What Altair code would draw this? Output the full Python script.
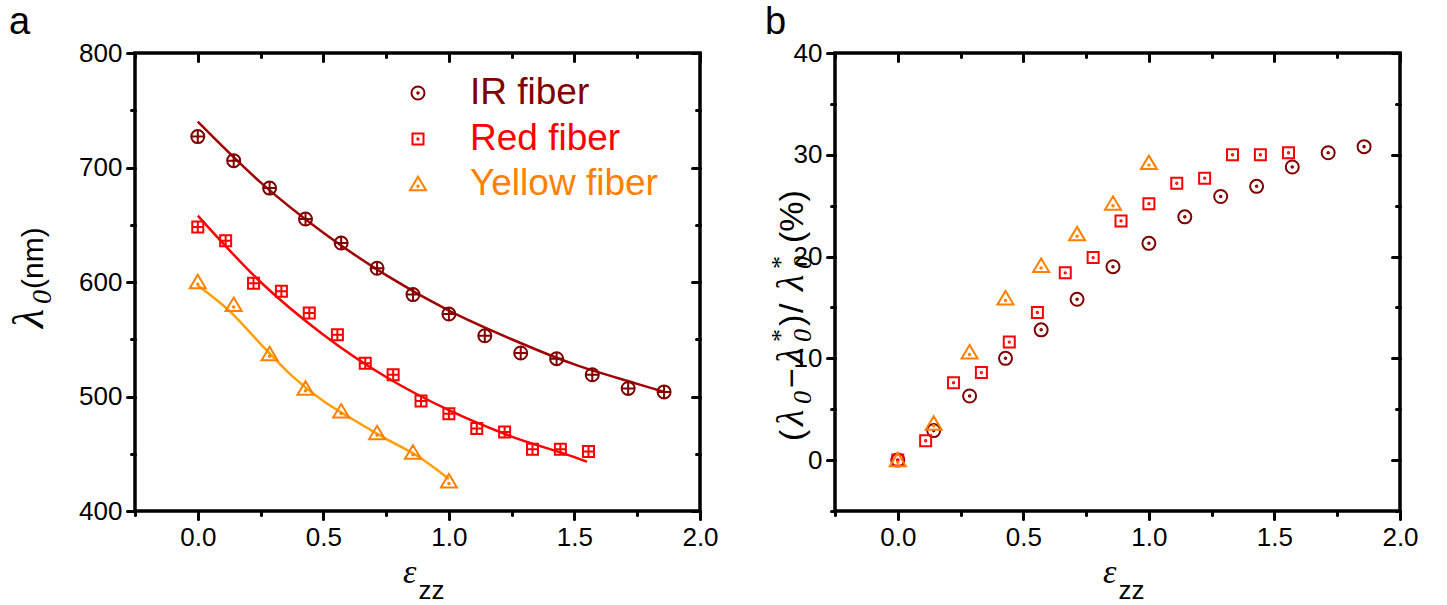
import altair as alt
import pandas as pd

# ---------------------------------------------------------------- data
# axial strain (epsilon_zz) of each measurement
ir_strain = [0.0, 0.143, 0.286, 0.429, 0.571, 0.714, 0.857, 1.0, 1.143, 1.286, 1.429, 1.571, 1.714, 1.857]
red_strain = [0.0, 0.111, 0.222, 0.333, 0.444, 0.556, 0.667, 0.778, 0.889, 1.0, 1.111, 1.222, 1.333, 1.444, 1.556]
yellow_strain = [0.0, 0.143, 0.286, 0.429, 0.571, 0.714, 0.857, 1.0]

# peak wavelength lambda_0 (nm)
ir_wavelength = [727, 706, 682, 655, 634, 612, 589, 572, 553, 538, 533, 519, 507, 504]
red_wavelength = [648, 636, 599, 592, 573, 554, 529, 519, 496, 485, 472, 469, 454, 454, 452]
yellow_wavelength = [600, 580, 537, 507, 487, 468, 451, 426]

# fitted curves through the wavelength data
ir_fit_strain = [0.0, 0.25, 0.5, 0.75, 1.0, 1.25, 1.5, 1.75, 1.857]
ir_fit_wavelength = [740, 687, 643, 606, 575, 550, 528, 511, 504]
red_fit_strain = [0.0, 0.25, 0.5, 0.75, 1.0, 1.25, 1.5, 1.55]
red_fit_wavelength = [658, 600, 554, 517, 488, 465, 447, 443]
yellow_fit_strain = [0.0, 0.125, 0.25, 0.375, 0.5, 0.625, 0.75, 0.875, 1.0]
yellow_fit_wavelength = [597, 575, 546, 518, 496, 479, 463, 448, 428]

# relative blue shift (lambda_0* - lambda_0) / lambda_0* in percent
ir_shift = [0.0, 2.9, 6.3, 10.0, 12.8, 15.8, 19.0, 21.3, 23.9, 25.9, 26.9, 28.8, 30.2, 30.8]
red_shift = [0.0, 1.9, 7.6, 8.6, 11.6, 14.5, 18.4, 19.9, 23.5, 25.2, 27.2, 27.7, 30.0, 30.0, 30.2]
yellow_shift = [0.0, 3.6, 10.6, 15.9, 19.1, 22.2, 25.2, 29.2]

series_names = ["IR fiber", "Red fiber", "Yellow fiber"]

x_major = [0.0, 0.5, 1.0, 1.5, 2.0]
x_minor = [-0.25, 0.25, 0.75, 1.25, 1.75]
wl_major = [400, 500, 600, 700, 800]
wl_minor = [450, 550, 650, 750]
shift_major = [0, 10, 20, 30, 40]
shift_minor = [-5, 5, 15, 25, 35]

# ---------------------------------------------------------------- style
FONT = "Liberation Sans"
SERIF = "Liberation Serif"
W, H = 565, 458

IR_C, RED_C, YEL_C = "#800000", "#FF0000", "#FF8000"
IR_LINE, RED_LINE, YEL_LINE = "#A00000", "#FF0000", "#FFA000"

CIRCLE = "M-1,0A1,1,0,1,1,1,0A1,1,0,1,1,-1,0Z"
SQUARE = "M-1,-1L1,-1L1,1L-1,1Z"
TRIANGLE = "M0,-1L1.1,0.85L-1.1,0.85Z"
PLUS = "M-1,0L1,0M0,-1L0,1"
DOT = "M-0.12,0A0.12,0.12,0,1,1,0.12,0A0.12,0.12,0,1,1,-0.12,0Z"
TRI_DOT = "M-0.1,0.3A0.1,0.1,0,1,1,0.1,0.3A0.1,0.1,0,1,1,-0.1,0.3Z"

SHAPES_PLUS = {"IR fiber": CIRCLE + PLUS, "Red fiber": SQUARE + PLUS, "Yellow fiber": TRIANGLE + TRI_DOT}
SHAPES_DOT = {"IR fiber": CIRCLE + DOT, "Red fiber": SQUARE + DOT, "Yellow fiber": TRIANGLE + TRI_DOT}
SIZES = {"IR fiber": 169, "Red fiber": 121, "Yellow fiber": 213}
COLORS = {"IR fiber": IR_C, "Red fiber": RED_C, "Yellow fiber": YEL_C}

x_scale = alt.Scale(domain=[-0.25, 2.0], nice=False, zero=False)
wl_scale = alt.Scale(domain=[400, 800], nice=False, zero=False)
shift_scale = alt.Scale(domain=[-5, 40], nice=False, zero=False)


def axis(orient, values, labels, size, offset=0, fmt=".1f"):
    kw = dict(orient=orient, values=values, labels=labels, tickSize=size, offset=offset,
              domain=False, grid=False, title=None, tickColor="black", tickWidth=3,
              tickCap="round")
    if labels:
        kw.update(format=fmt, labelFont=FONT, labelFontSize=26, labelColor="black",
                  labelPadding=5, labelOverlap=False, labelFlush=False)
    return alt.Axis(**kw)


def frame(df, xf, yf, y_scale, y_major, y_minor):
    pairs = [
        (axis("bottom", x_major, True, 8), axis("left", y_major, True, 8, fmt="d")),
        (axis("bottom", x_minor, False, 4), axis("left", y_minor, False, 4)),
        (axis("top", x_major, False, 8, -8), axis("right", y_major, False, 8, -8)),
        (axis("top", x_minor, False, 4, -4), axis("right", y_minor, False, 4, -4)),
    ]
    return [
        alt.Chart(df).mark_point(opacity=0).encode(
            x=alt.X(f"{xf}:Q", scale=x_scale, axis=xa),
            y=alt.Y(f"{yf}:Q", scale=y_scale, axis=ya),
        )
        for xa, ya in pairs
    ]


def points(df, yf, y_scale, name, shapes):
    return alt.Chart(df).mark_point(
        shape=shapes[name], size=SIZES[name], filled=False, strokeWidth=2,
        color=COLORS[name], opacity=1,
    ).encode(
        x=alt.X("strain:Q", scale=x_scale, axis=None),
        y=alt.Y(f"{yf}:Q", scale=y_scale, axis=None),
    )


def fit_line(xs, ys, color):
    df = pd.DataFrame({"strain": xs, "wavelength": ys})
    return alt.Chart(df).mark_line(color=color, strokeWidth=2.5, interpolate="monotone").encode(
        x=alt.X("strain:Q", scale=x_scale, axis=None),
        y=alt.Y("wavelength:Q", scale=wl_scale, axis=None),
    )


def text(t, x, y, size, color="black", font=FONT, style="normal", align="left",
         baseline="alphabetic", angle=0):
    return alt.Chart(pd.DataFrame({"t": [t]})).mark_text(
        font=font, fontSize=size, fontStyle=style, color=color, align=align,
        baseline=baseline, angle=angle,
    ).encode(text="t:N", x=alt.value(x), y=alt.value(y))


def vertical_label(pieces, x_base, y_start):
    """Rotated label built from pieces: (text, font, style, size, advance, x shift).
    Pieces run upward from y_start along a common baseline at x_base."""
    layers, y = [], y_start
    for t, font, style, size, adv, dx in pieces:
        layers.append(text(t, x_base + dx, y, size, font=font, style=style, angle=270))
        y -= adv
    return layers


def symbol(name, x, y):
    return alt.Chart(pd.DataFrame({"t": [name]})).mark_point(
        shape=SHAPES_DOT[name], size=SIZES[name], filled=False, strokeWidth=2,
        color=COLORS[name], opacity=1,
    ).encode(x=alt.value(x), y=alt.value(y))


def x_title():
    cx = W / 2
    return [
        text("ε", cx - 1, 530, 34, font=SERIF, style="italic", align="right"),
        text("zz", cx + 1, 546, 26),
    ]


ir_a = pd.DataFrame({"strain": ir_strain, "wavelength": ir_wavelength})
red_a = pd.DataFrame({"strain": red_strain, "wavelength": red_wavelength})
yel_a = pd.DataFrame({"strain": yellow_strain, "wavelength": yellow_wavelength})

ir_b = pd.DataFrame({"strain": ir_strain, "shift": ir_shift})
red_b = pd.DataFrame({"strain": red_strain, "shift": red_shift})
yel_b = pd.DataFrame({"strain": yellow_strain, "shift": yellow_shift})

# ---------------------------------------------------------------- panel a
legend_rows = [(series_names[0], 40), (series_names[1], 86), (series_names[2], 131)]
legend = []
for name, ly in legend_rows:
    legend.append(symbol(name, 283, ly))
    legend.append(text(name, 335, ly, 37, color=COLORS[name], baseline="middle"))

ylabel_a = vertical_label([
    ("λ", SERIF, "italic", 44, 24, 0),
    ("0", SERIF, "italic", 28, 15, 8),
    ("(nm)", FONT, "normal", 30, 0, 0),
], -92, 275)

panel_a = alt.layer(
    *frame(ir_a, "strain", "wavelength", wl_scale, wl_major, wl_minor),
    fit_line(ir_fit_strain, ir_fit_wavelength, IR_LINE),
    fit_line(red_fit_strain, red_fit_wavelength, RED_LINE),
    fit_line(yellow_fit_strain, yellow_fit_wavelength, YEL_LINE),
    points(ir_a, "wavelength", wl_scale, "IR fiber", SHAPES_PLUS),
    points(red_a, "wavelength", wl_scale, "Red fiber", SHAPES_PLUS),
    points(yel_a, "wavelength", wl_scale, "Yellow fiber", SHAPES_PLUS),
    *legend,
    text("a", -126, -19, 38),
    *ylabel_a,
    *x_title(),
).properties(width=W, height=H).resolve_axis(x="independent", y="independent")

# ---------------------------------------------------------------- panel b
ylabel_b = vertical_label([
    ("(", FONT, "normal", 34, 15, 0),
    ("λ", SERIF, "italic", 38, 22, 0),
    ("0", SERIF, "italic", 26, 16, 8),
    ("−", FONT, "normal", 34, 24, 0),
    ("λ", SERIF, "italic", 38, 22, 0),
    ("0", SERIF, "italic", 26, 0, 8),
    ("*", SERIF, "normal", 26, 16, -14),
    (")", FONT, "normal", 34, 13, 0),
    ("/", FONT, "normal", 34, 22, 0),
    ("λ", SERIF, "italic", 38, 22, 0),
    ("0", SERIF, "italic", 26, 0, 8),
    ("*", SERIF, "normal", 26, 26, -14),
    ("(%)", FONT, "normal", 34, 0, 0),
], -32, 388)

panel_b = alt.layer(
    *frame(ir_b, "strain", "shift", shift_scale, shift_major, shift_minor),
    points(ir_b, "shift", shift_scale, "IR fiber", SHAPES_DOT),
    points(red_b, "shift", shift_scale, "Red fiber", SHAPES_DOT),
    points(yel_b, "shift", shift_scale, "Yellow fiber", SHAPES_DOT),
    text("b", -70, -19, 38),
    *ylabel_b,
    *x_title(),
).properties(width=W, height=H).resolve_axis(x="independent", y="independent")

chart = alt.hconcat(panel_a, panel_b, spacing=135, bounds="flush").properties(
    padding={"left": 6, "top": 2, "right": 5, "bottom": 0}
).configure_view(stroke="black", strokeWidth=3.5)

chart.save("out.html", embed_options={"renderer": "svg", "actions": False})
